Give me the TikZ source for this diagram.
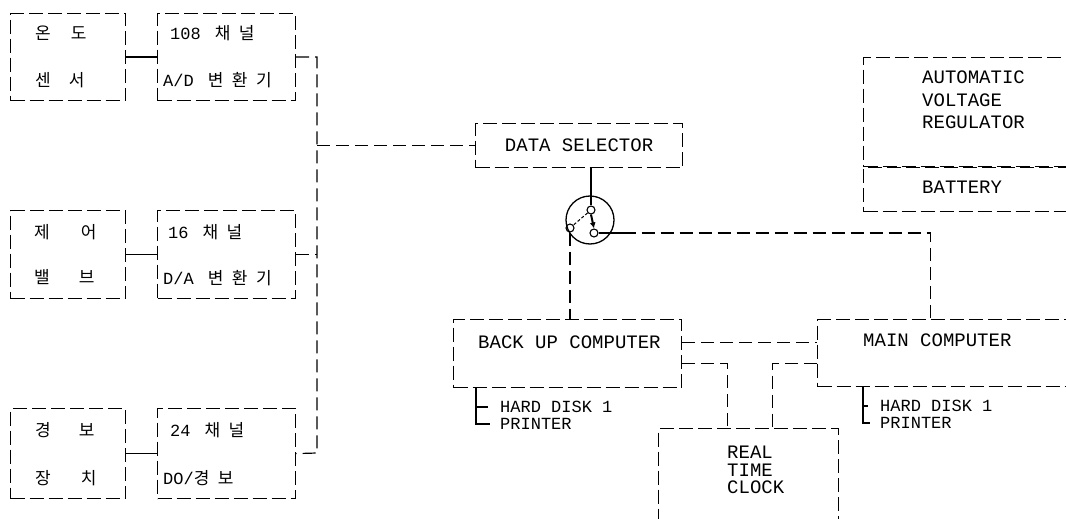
\documentclass[tikz,border=0pt]{standalone}
\usepackage{fontspec}
\setmonofont{Liberation Mono}
\newfontfamily\korfont{Noto Sans CJK KR}
\newfontfamily\korwide[LetterSpace=50]{Noto Sans CJK KR}
\usetikzlibrary{arrows.meta, positioning}

\begin{document}
\begin{tikzpicture}[x=1pt, y=-1pt, node distance=0pt,
    every node/.style={font=\ttfamily\fontsize{19}{19}\selectfont, inner sep=0pt},
    dbox/.style={draw, dash pattern=on 14pt off 5pt, line width=1.2pt, anchor=north west},
    conn/.style={dash pattern=on 13pt off 6pt, line width=1.2pt},
    link/.style={line width=1.6pt},
    tree/.style={line width=1.1pt},
    item/.style={anchor=west, font=\ttfamily\fontsize{17}{17}\selectfont, text height=10pt, text depth=0pt},
    contact/.style={circle, draw, minimum size=8pt, line width=1.1pt},
    hg/.style={font=\korfont\fontsize{17}{17}\selectfont, anchor=west},
    chan/.style={font=\ttfamily\fontsize{17}{17}\selectfont, anchor=west}]
    \useasboundingbox (0,0) rectangle (1066,519);
    \fill[white] (0,0) rectangle (1066,519);
    \clip (0,0) rectangle (1066,519);

    \node[dbox, minimum width=115pt, minimum height=87pt] (ondo) at (10,13) {};
    \node[dbox, minimum width=138pt, minimum height=87pt] (ad) at (157,13) {};
    \node[dbox, minimum width=115pt, minimum height=88pt] (jeeo) at (10,210) {};
    \node[dbox, minimum width=138pt, minimum height=88pt] (da) at (157,210) {};
    \node[dbox, minimum width=115pt, minimum height=90pt] (gyeongbo) at (10,408) {};
    \node[dbox, minimum width=138pt, minimum height=90pt] (dio) at (157,408) {};

    \node[hg] (ondo1) at (35,33) {온\hspace{20pt}도};
    \node[hg] (ondo2) at (35,80) {센\hspace{18pt}서};
    \node[hg] (jeeo1) at (34,232) {제\hspace{31pt}어};
    \node[hg] (jeeo2) at (34,277) {밸\hspace{29pt}브};
    \node[hg] (gyeongbo1) at (35,430) {경\hspace{28pt}보};
    \node[hg] (gyeongbo2) at (35,478) {장\hspace{30pt}치};

    \node[chan] (ad1) at (170,33) {108\hspace{14pt}{\korwide 채널}};
    \node[chan] (ad2) at (163,80) {A/D\hspace{14pt}{\korwide 변환기}};
    \node[chan] (da1) at (168,232) {16\hspace{14pt}{\korwide 채널}};
    \node[chan] (da2) at (163,278) {D/A\hspace{14pt}{\korwide 변환기}};
    \node[chan] (dio1) at (170,430) {24\hspace{14pt}{\korwide 채널}};
    \node[chan] (dio2) at (163,478) {DO/{\korwide 경보}};

    \node[dbox, minimum width=207pt, minimum height=44pt] (sel) at (475,123) {};
    \node (seltxt) at (sel.center) {DATA SELECTOR};

    \node[dbox, minimum width=215pt, minimum height=109pt] (avr) at (863,57) {};
    \node[dbox, minimum width=215pt, minimum height=44pt, below=of avr] (bat) {};
    \node[anchor=west, align=left, font=\ttfamily\fontsize{19}{22.5}\selectfont] (avrtxt) at (922,100) {AUTOMATIC\\VOLTAGE\\REGULATOR};
    \node[anchor=west] (battxt) at (922,187) {BATTERY};

    \node[dbox, minimum width=228pt, minimum height=68pt] (bk) at (453,319) {};
    \node[anchor=west] (bktxt) at (478,342) {BACK UP COMPUTER};
    \node[dbox, minimum width=258pt, minimum height=67pt] (main) at (817,319) {};
    \node[anchor=west] (maintxt) at (863,340) {MAIN COMPUTER};
    \node[dbox, minimum width=180pt, minimum height=130pt] (rtc) at (658,428) {};
    \node[anchor=west, align=left, font=\ttfamily\fontsize{19}{17.5}\selectfont] (rtctxt) at (727,470) {REAL\\TIME\\CLOCK};

    \node[item] (bkhd) at (500,407) {HARD DISK 1};
    \node[item] (bkpr) at (500,424) {PRINTER};
    \node[item] (mainhd) at (880,406) {HARD DISK 1};
    \node[item] (mainpr) at (880,423) {PRINTER};

    \node[circle, draw, minimum size=48pt, line width=1.3pt] (sw) at (590,220) {};
    \node[contact] (swt) at (591,210) {};
    \node[contact] (swl) at (570,228) {};
    \node[contact] (swr) at (594,233) {};

    \coordinate (busbot) at (317,453);
    \coordinate (mtop) at ([xshift=-16pt]main.north);
    \coordinate (bkt) at ([xshift=23pt]bk.south west);
    \coordinate (maint) at ([xshift=46pt]main.south west);

    \draw[link] (ondo) -- (ad);
    \draw[link] (jeeo) -- (da);
    \draw[link] (gyeongbo) -- (dio);
    \draw[conn] (ad.east) -- (ad.east -| busbot) -- (busbot) -- (dio.east);
    \draw[conn] (da.east) -- (da.east -| busbot);
    \draw[conn] (sel.west -| busbot) -- (sel.west);

    \draw[line width=1.1pt] (swt |- sel.south) -- (swt.north);
    \draw[line width=1pt, densely dashed] (swt) -- (swl);
    \draw[line width=2pt, -{Latex[length=6pt, width=6pt]}] (swt.south) -- (swr.north);
    \draw[line width=2.2pt] (swr.east) -- ++(24,0) coordinate (swout);
    \draw[conn] (swout) -- (swout -| mtop) -- (mtop);
    \draw[conn] (swl.south) -- (swl.south |- bk.north);

    \draw[conn] ([yshift=11pt]bk.east) -- ([yshift=11pt]bk.east -| main.west);
    \draw[conn] ([yshift=-10pt]bk.east) -| ([xshift=-21pt]rtc.north);
    \draw[conn] ([yshift=-10pt]main.west) -| ([xshift=24pt]rtc.north);

    \draw[tree] (bkt) |- ([xshift=-10pt]bkpr.west);
    \draw[tree] (bkt |- bkhd.west) -- ([xshift=-12pt]bkhd.west);
    \draw[tree] (maint) |- ([xshift=-10pt]mainpr.west);
    \draw[tree] (maint |- mainhd.west) -- ([xshift=-12pt]mainhd.west);
  \end{tikzpicture}
\end{document}
